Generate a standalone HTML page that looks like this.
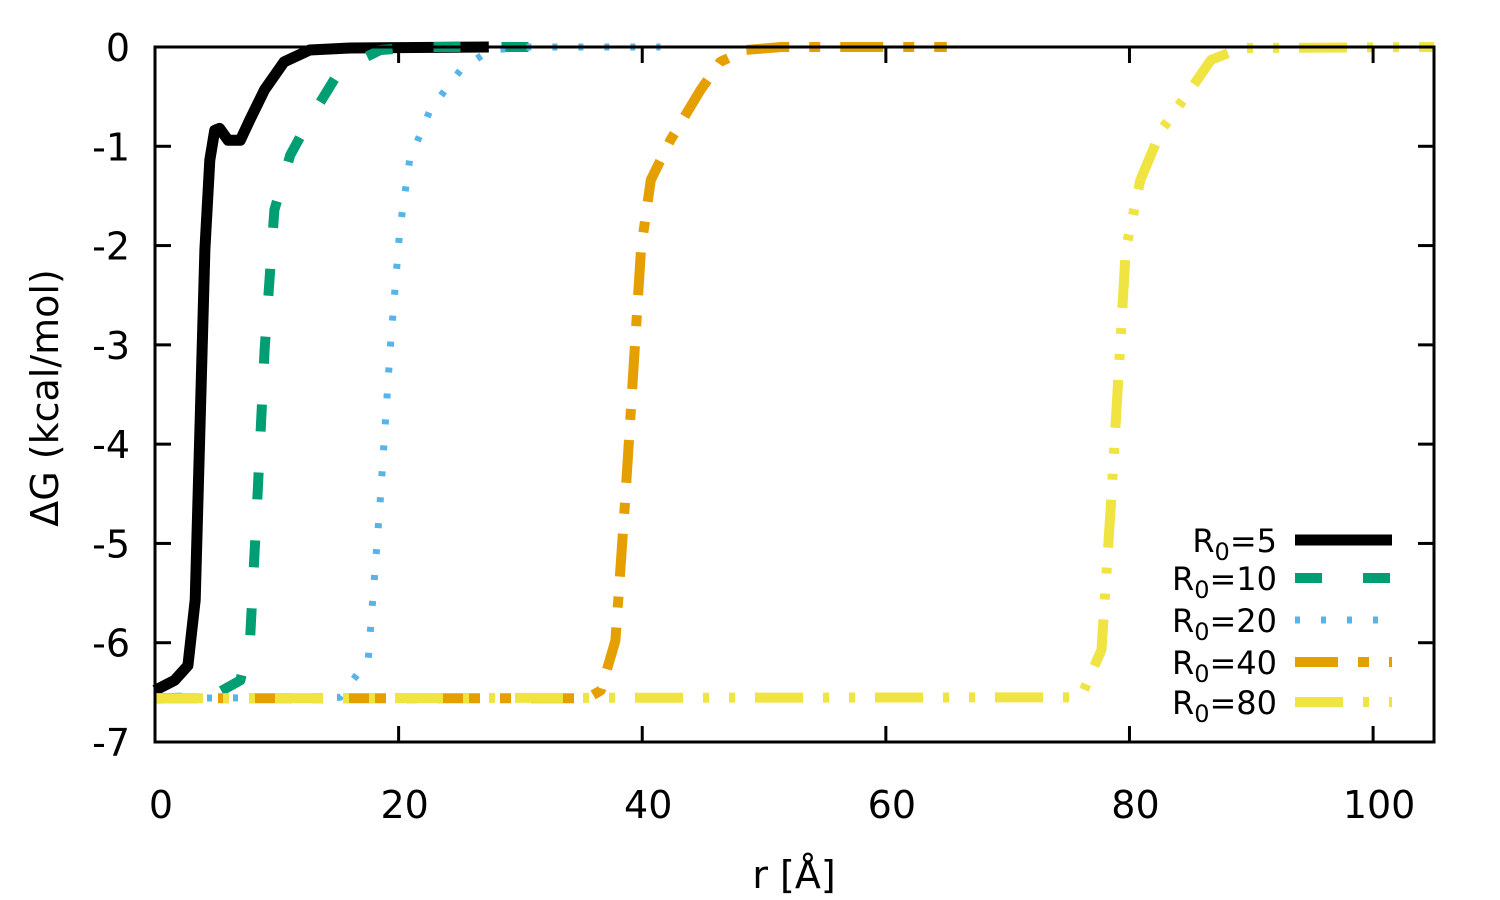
<!DOCTYPE html>
<html><head><meta charset="utf-8"><style>
html,body{margin:0;padding:0;background:#fff;}
svg{display:block;font-family:"DejaVu Sans","Liberation Sans",sans-serif;}
</style></head><body>
<svg id="chart" width="1500" height="900" viewBox="0 0 1500 900">
<g id="series"></g>
<rect x="155" y="47" width="1279" height="695" fill="none" stroke="#000" stroke-width="3"/>
<g id="ticks"></g>
<text x="58" y="398" font-size="38" text-anchor="middle" transform="rotate(-90 58 398)">ΔG (kcal/mol)</text>
<text x="794" y="888" font-size="38" text-anchor="middle">r [Å]</text>
<g id="legend"></g>
</svg>
<script>
const xTicks = [0, 20, 40, 60, 80, 100];
const yTicks = [0, -1, -2, -3, -4, -5, -6, -7];
const seriesNames = ["R0=5", "R0=10", "R0=20", "R0=40", "R0=80"];
const r5 = [0,1.6,2.7,3.3,4.1,4.5,4.9,5.3,6,7,7.8,9,10.6,12.7,16,27.4];
const g5 = [-6.48,-6.38,-6.23,-5.57,-2.04,-1.14,-0.84,-0.82,-0.94,-0.94,-0.73,-0.43,-0.15,-0.03,-0.01,0];
const r10 = [0,4.5,7,7.8,8.4,9,9.8,11.1,12.7,15.2,18.5,21.8,34];
const g10 = [-6.56,-6.55,-6.38,-5.98,-4.56,-3.05,-1.64,-1.09,-0.73,-0.23,-0.03,0,0];
const r20 = [0,15.2,17.5,18.5,19.3,20.1,20.9,22.6,25.1,27.5,30.8,41.5];
const g20 = [-6.56,-6.55,-6.17,-4.56,-3.05,-1.84,-1.14,-0.63,-0.23,-0.03,0,0];
const r40 = [0,35.5,36.6,37.8,38.6,39.9,40.7,42.3,44.8,46.4,48.5,51.4,65];
const g40 = [-6.56,-6.56,-6.48,-5.98,-4.56,-2.04,-1.34,-0.94,-0.43,-0.15,-0.03,0,0];
const r80 = [0,76,77.7,78.5,79.7,80.9,82.6,85,86.7,89.2,105];
const g80 = [-6.56,-6.55,-6.07,-4.56,-2.04,-1.34,-0.84,-0.43,-0.13,-0.01,0];

const X0=155, X1=1434, Y0=742, Y1=47;
const xs = v => X0 + (v-0)/(105-0)*(X1-X0);
const ys = v => Y0 + (v-(-7))/(0-(-7))*(Y1-Y0);
const NS="http://www.w3.org/2000/svg";
const styles = [
 {c:"#000000", w:11, d:""},
 {c:"#009e73", w:10, d:"27 41"},
 {c:"#56b4e9", w:7, d:"5 21"},
 {c:"#e69f00", w:10, d:"43 20 11 20"},
 {c:"#f0e442", w:10, d:"48 20 6 20 6 20"}
];
const data = [[r5,g5],[r10,g10],[r20,g20],[r40,g40],[r80,g80]];
const sg = document.getElementById('series');
data.forEach((s,i)=>{
  const p=document.createElementNS(NS,'polyline');
  
  
  p.setAttribute('points', s[0].map((r,k)=>xs(r).toFixed(1)+','+ys(s[1][k]).toFixed(1)).join(' '));
  p.setAttribute('fill','none');
  p.setAttribute('stroke',styles[i].c);
  p.setAttribute('stroke-width',styles[i].w);
  p.setAttribute('stroke-linejoin','round');
  if(styles[i].d) p.setAttribute('stroke-dasharray',styles[i].d);
  sg.appendChild(p);
});
const tg=document.getElementById('ticks');
function line(x1,y1,x2,y2,name){const l=document.createElementNS(NS,'line');
  
  
  l.setAttribute('x1',x1);l.setAttribute('y1',y1);l.setAttribute('x2',x2);l.setAttribute('y2',y2);
  l.setAttribute('stroke','#000');l.setAttribute('stroke-width','3');tg.appendChild(l);}
function text(x,y,t,anchor,name){const e=document.createElementNS(NS,'text');
  
  
  e.setAttribute('x',x);e.setAttribute('y',y);e.setAttribute('font-size','38');e.setAttribute('text-anchor',anchor);
  e.textContent=t;tg.appendChild(e);return e;}
xTicks.forEach(v=>{const x=xs(v);line(x,Y0,x,Y0-16,'x-tick');line(x,Y1,x,Y1+16,'x-tick-top');
  text(x+6,818,String(v),'middle','x-tick-label');});
yTicks.forEach(v=>{const y=ys(v);line(X0,y,X0+16,y,'y-tick');line(X1,y,X1-16,y,'y-tick-right');
  text(130,y+14,String(v),'end','y-tick-label');});
const lg=document.getElementById('legend');
const ly=[540,578,620,662,702];
seriesNames.forEach((n,i)=>{
  const t=document.createElementNS(NS,'text');
  
  
  t.setAttribute('x',1277);t.setAttribute('y',ly[i]+12);t.setAttribute('font-size','32');t.setAttribute('text-anchor','end');
  const parts=n.split('0=');
  t.innerHTML='R<tspan font-size="24" dy="8">0</tspan><tspan dy="-8">='+parts[1]+'</tspan>';
  lg.appendChild(t);
  const l=document.createElementNS(NS,'line');
  
  
  l.setAttribute('x1',1295);l.setAttribute('x2',1392);l.setAttribute('y1',ly[i]);l.setAttribute('y2',ly[i]);
  l.setAttribute('stroke',styles[i].c);l.setAttribute('stroke-width',styles[i].w);
  if(styles[i].d) l.setAttribute('stroke-dasharray',styles[i].d);
  lg.appendChild(l);
});
</script>
</body></html>
